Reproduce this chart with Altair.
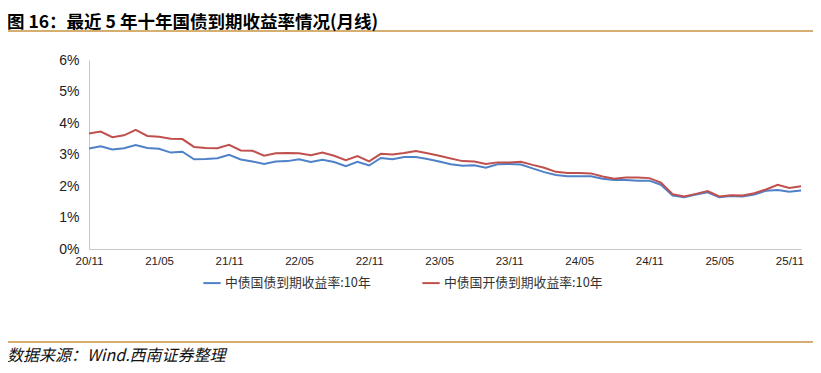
import altair as alt
import pandas as pd

# Month categories 20/11 .. 25/12
months = []
y, m = 20, 11
for _ in range(62):
    months.append(f"{y:02d}/{m:02d}")
    m += 1
    if m > 12:
        m = 1
        y += 1

govt_10y = [3.19, 3.26, 3.16, 3.20, 3.30, 3.21, 3.18, 3.06, 3.09, 2.85,
            2.86, 2.88, 2.99, 2.84, 2.78, 2.70, 2.78, 2.79, 2.85, 2.76,
            2.83, 2.76, 2.63, 2.77, 2.65, 2.89, 2.85, 2.92, 2.92, 2.86,
            2.78, 2.69, 2.64, 2.66, 2.58, 2.69, 2.70, 2.68, 2.56, 2.44,
            2.35, 2.31, 2.31, 2.31, 2.23, 2.19, 2.19, 2.17, 2.17, 2.04,
            1.70, 1.64, 1.73, 1.80, 1.64, 1.68, 1.67, 1.73, 1.85, 1.87,
            1.82, 1.86]
cdb_10y = [3.67, 3.73, 3.55, 3.61, 3.78, 3.59, 3.56, 3.50, 3.49, 3.24,
           3.21, 3.20, 3.31, 3.13, 3.12, 2.96, 3.04, 3.05, 3.04, 2.98,
           3.06, 2.96, 2.82, 2.95, 2.78, 3.02, 3.00, 3.05, 3.11, 3.04,
           2.96, 2.87, 2.79, 2.78, 2.70, 2.75, 2.75, 2.77, 2.67, 2.58,
           2.45, 2.41, 2.41, 2.40, 2.30, 2.23, 2.27, 2.27, 2.25, 2.11,
           1.74, 1.67, 1.75, 1.84, 1.67, 1.71, 1.70, 1.77, 1.89, 2.04,
           1.94, 1.99]
series_names = ["中债国债到期收益率:10年", "中债国开债到期收益率:10年"]
tick_labels = ["20/11", "21/05", "21/11", "22/05", "22/11", "23/05",
               "23/11", "24/05", "24/11", "25/05", "25/11"]

rows = []
for i, mo in enumerate(months):
    rows.append({"month": mo, "series": series_names[0], "value": govt_10y[i] / 100})
    rows.append({"month": mo, "series": series_names[1], "value": cdb_10y[i] / 100})
df = pd.DataFrame(rows)

GOLD = "#C9933F"
FONT = "Noto Sans CJK SC"

lines = alt.Chart(df).mark_line(strokeWidth=2).encode(
    x=alt.X("month:O", sort=months,
            scale=alt.Scale(type="point", padding=0),
            axis=alt.Axis(values=tick_labels, title=None, labelAngle=0,
                          ticks=False, labelPadding=6, labelFontSize=11.5,
                          labelColor="#222", domainColor="#c8c8c8",
                          labelFont="Liberation Sans", grid=False)),
    y=alt.Y("value:Q", scale=alt.Scale(domain=[0, 0.06]),
            axis=alt.Axis(format=".0%", values=[0, 0.01, 0.02, 0.03, 0.04, 0.05, 0.06],
                          title=None, ticks=False, labelPadding=10, labelFontSize=14,
                          labelColor="#222", domainColor="#c8c8c8",
                          labelFont="Liberation Sans", grid=False)),
    color=alt.Color("series:N", sort=series_names,
                    scale=alt.Scale(domain=series_names, range=["#4F81C9", "#C0504D"]),
                    legend=alt.Legend(orient="none", legendX=113, legendY=213,
                                      direction="horizontal", title=None,
                                      symbolType="stroke", symbolSize=300,
                                      symbolStrokeWidth=2, labelFontSize=12.8,
                                      labelFont=FONT, labelColor="#333",
                                      columnPadding=47, labelOffset=3)),
)

top_rule = alt.Chart(pd.DataFrame({"a": [0]})).mark_rule(color=GOLD, strokeWidth=1.5).encode(
    x=alt.value(-81), x2=alt.value(726), y=alt.value(-29))
bottom_rule = alt.Chart(pd.DataFrame({"a": [0]})).mark_rule(color=GOLD, strokeWidth=1.5).encode(
    x=alt.value(-81), x2=alt.value(726), y=alt.value(282))
source = alt.Chart(pd.DataFrame({"t": ["数据来源：Wind.西南证券整理"]})).mark_text(
    align="left", baseline="middle", fontSize=16, fontStyle="italic", font=FONT,
    color="#111").encode(text="t:N", x=alt.value(-82), y=alt.value(296))

chart = alt.layer(lines, top_rule, bottom_rule, source).properties(
    width=712, height=189,
    title=alt.TitleParams("图 16：最近 5 年十年国债到期收益率情况(月线)", anchor="start",
                          font=FONT, fontSize=17.5, fontWeight="bold", color="#000",
                          dx=0, offset=-1),
    padding={"left": 81, "top": 52, "right": 12, "bottom": 116},
    autosize=alt.AutoSizeParams(type="none"),
).configure_view(stroke=None)

chart.save("out.html", embed_options={"renderer": "svg", "actions": False})
